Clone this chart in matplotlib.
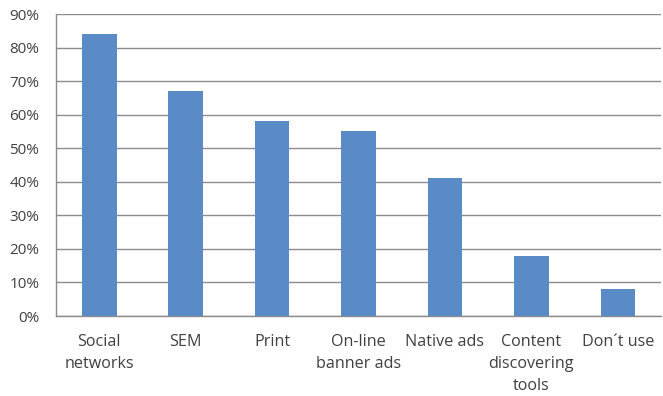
import matplotlib
matplotlib.use("Agg")
import matplotlib.pyplot as plt
from matplotlib.ticker import MultipleLocator, FuncFormatter

categories = ["Social\nnetworks", "SEM", "Print", "On-line\nbanner ads",
              "Native ads", "Content\ndiscovering\ntools", "Don\u00b4t use"]
values = [84, 67, 58, 55, 41, 18, 8]

BAR_COLOR = "#5b8bc7"
GRID_COLOR = "#8c8c8c"
TEXT_COLOR = "#404040"

plt.rcParams["font.family"] = ["Open Sans", "DejaVu Sans"]

fig = plt.figure(figsize=(6.63, 3.96), dpi=100)
ax = fig.add_axes([0.0845, 0.202, 0.9125, 0.7626])

x = range(len(categories))
ax.bar(x, values, width=0.4, color=BAR_COLOR, zorder=3)

ax.set_xlim(-0.5, len(categories) - 0.5)
ax.set_ylim(0, 90)
ax.yaxis.set_major_locator(MultipleLocator(10))
ax.yaxis.set_major_formatter(FuncFormatter(lambda v, _: f"{v:.0f}%"))
ax.grid(axis="y", color=GRID_COLOR, linewidth=1, zorder=0)

ax.set_xticks(list(x))
ax.set_xticklabels(categories, linespacing=1.5, va="top")
ax.tick_params(axis="both", length=0, labelcolor=TEXT_COLOR)
ax.tick_params(axis="x", pad=13, labelsize=11.6)
ax.tick_params(axis="y", pad=12, labelsize=11)

for side in ["top", "right"]:
    ax.spines[side].set_visible(False)
for side in ["left", "bottom"]:
    ax.spines[side].set_color(GRID_COLOR)
    ax.spines[side].set_linewidth(1)

fig.savefig("out.png", dpi=100)
